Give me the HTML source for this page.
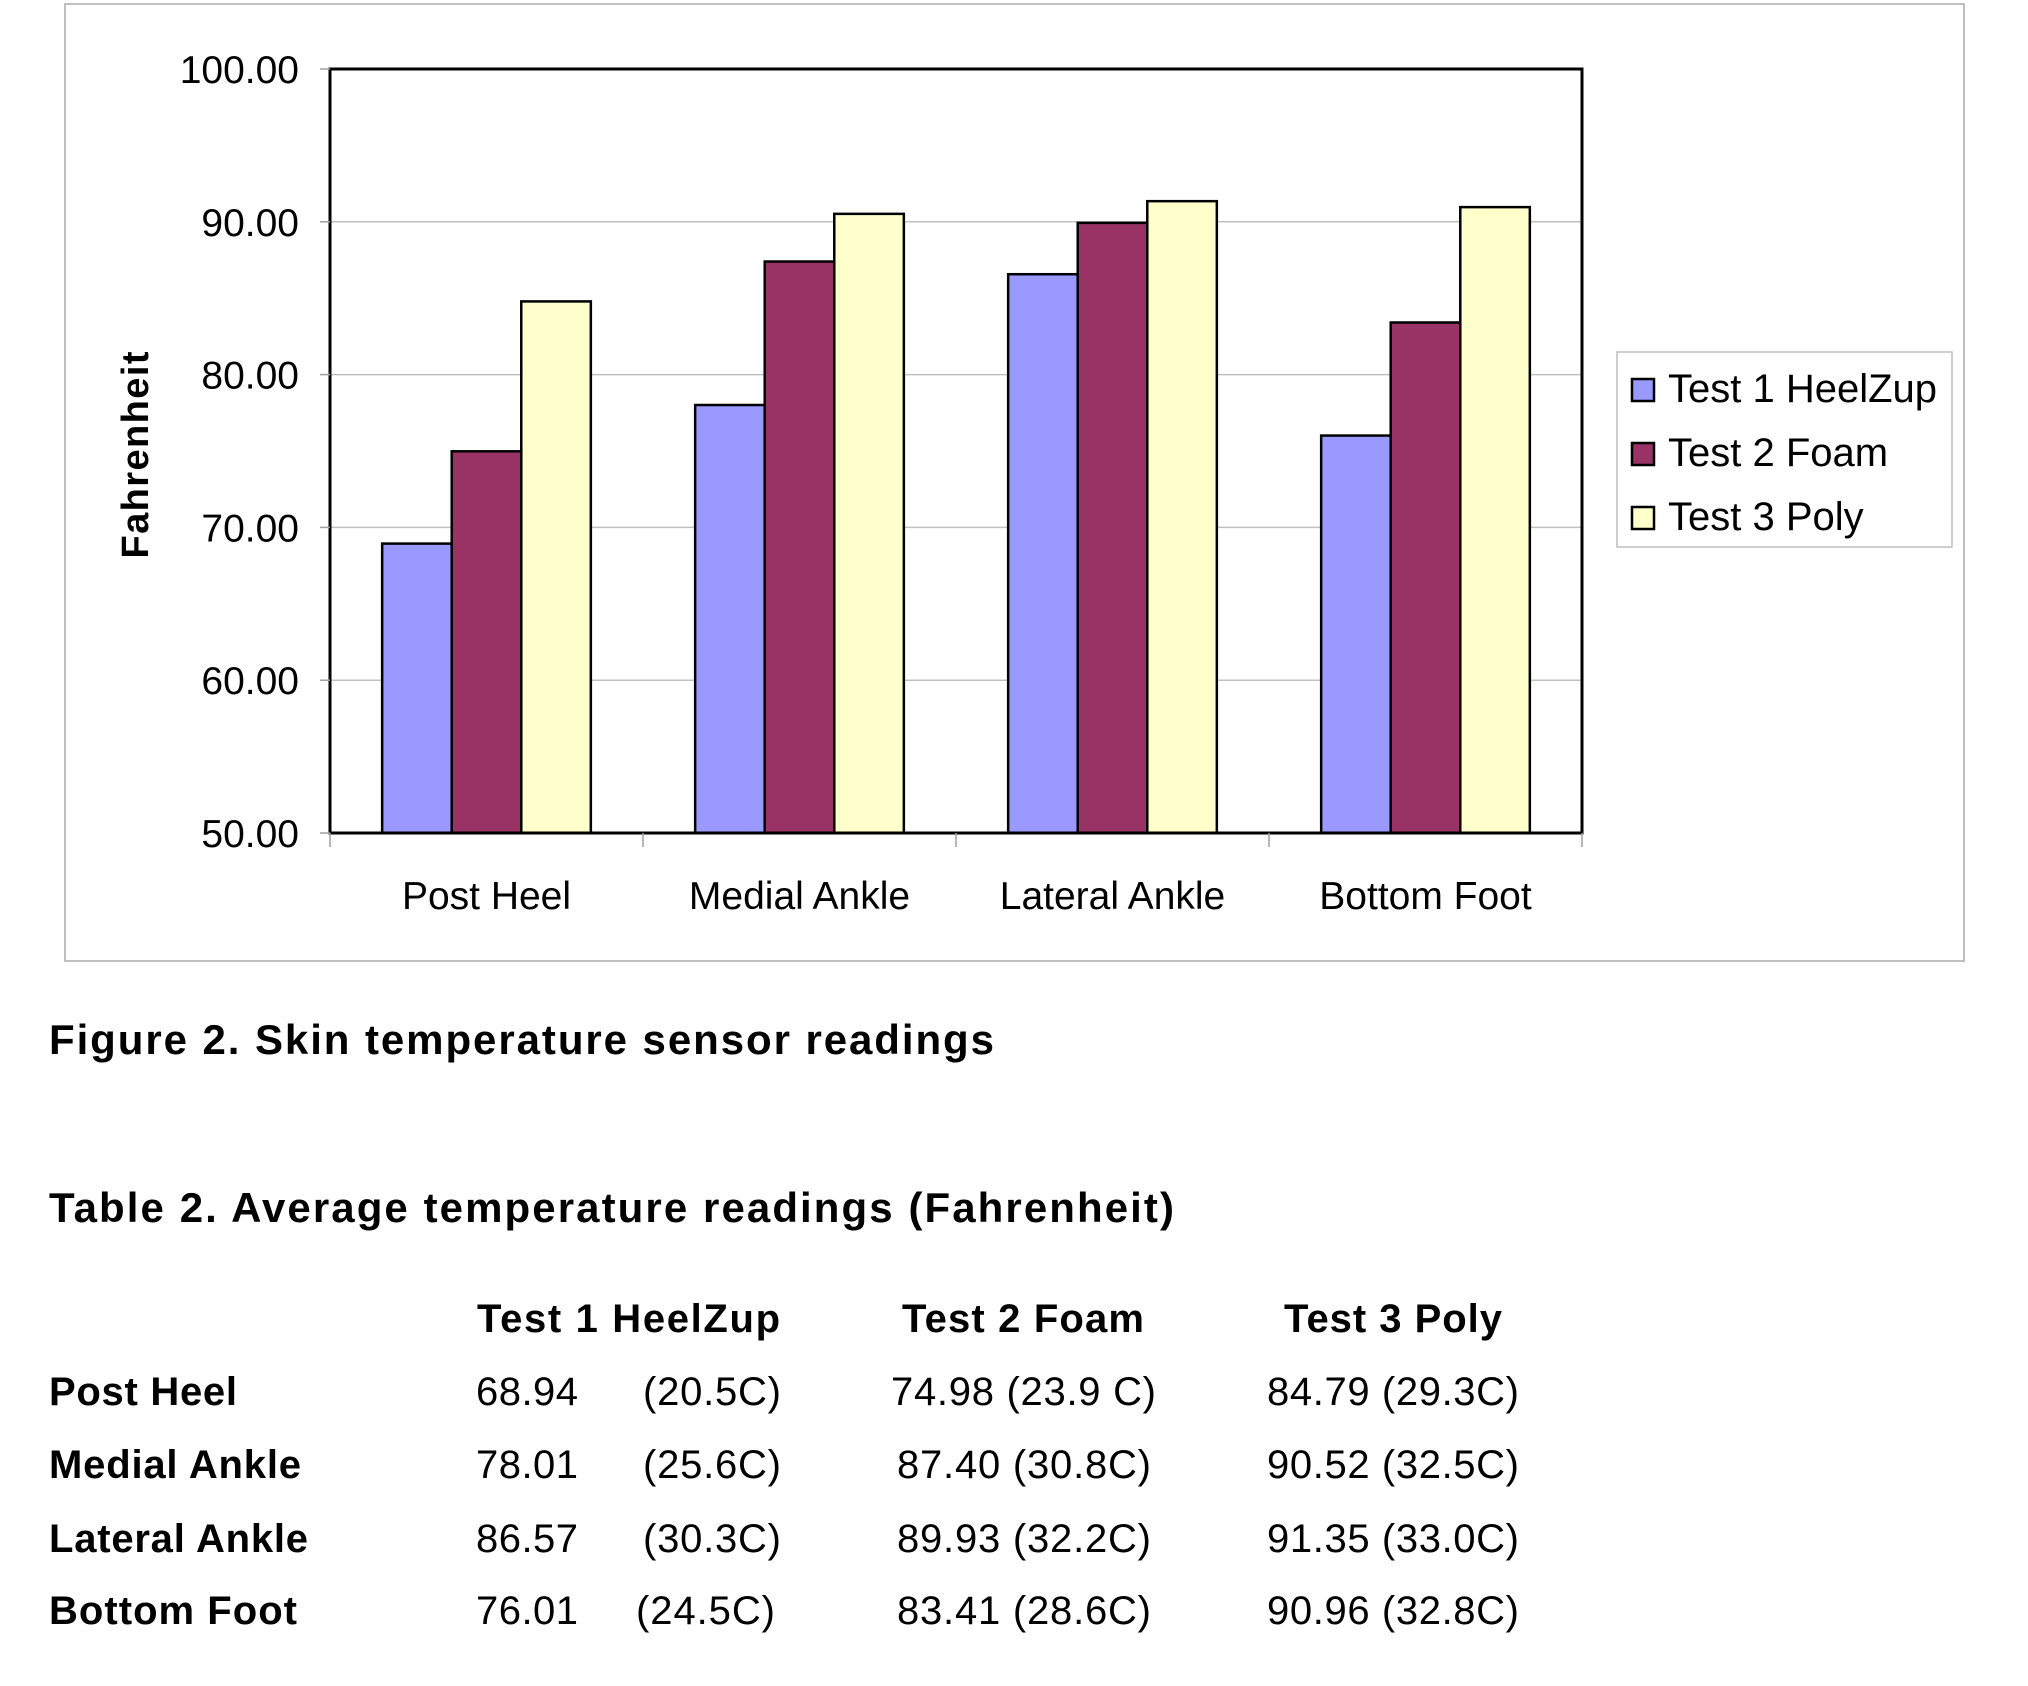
<!DOCTYPE html>
<html><head><meta charset="utf-8"><style>
html,body{margin:0;padding:0;background:#fff;}
svg{display:block;font-family:"Liberation Sans",Arial,sans-serif;}
</style></head><body>
<svg id="chart" width="2028" height="1686" viewBox="0 0 2028 1686">
<rect x="65" y="4" width="1899" height="957" fill="#fff" stroke="#bfbfbf" stroke-width="2"/>
<g id="grid"></g>
<g id="bars"></g>
<rect x="330" y="69" width="1252" height="764" fill="none" stroke="#000" stroke-width="3"/>
<g id="yticks"></g>
<g id="xticks"></g>
<text transform="translate(148,455) rotate(-90)" text-anchor="middle" font-size="38" font-weight="bold" textLength="207">Fahrenheit</text>
<g>
<rect x="1617" y="352" width="335" height="195" fill="#fff" stroke="#bfbfbf" stroke-width="1.5"/>
<g id="legend"></g>
</g>
<text x="49" y="1054" font-size="42" font-weight="bold" textLength="945">Figure 2. Skin temperature sensor readings</text>
<text x="49" y="1222" font-size="42" font-weight="bold" textLength="1125">Table 2. Average temperature readings (Fahrenheit)</text>
<g font-size="40">
<text x="477" y="1332" font-weight="bold" textLength="303">Test 1  HeelZup</text>
<text x="902" y="1332" font-weight="bold" textLength="242">Test 2 Foam</text>
<text x="1284" y="1332" font-weight="bold" textLength="218">Test 3 Poly</text>
<text x="49" y="1405" font-weight="bold" textLength="188">Post Heel</text>
<text x="49" y="1478" font-weight="bold" textLength="252">Medial Ankle</text>
<text x="49" y="1552" font-weight="bold" textLength="259">Lateral Ankle</text>
<text x="49" y="1624" font-weight="bold" textLength="248">Bottom Foot</text>
<text x="476" y="1405" textLength="102">68.94</text>
<text x="643" y="1405" textLength="138">(20.5C)</text>
<text x="891" y="1405" textLength="265">74.98 (23.9 C)</text>
<text x="1267" y="1405" textLength="252">84.79 (29.3C)</text>
<text x="476" y="1478" textLength="102">78.01</text>
<text x="643" y="1478" textLength="138">(25.6C)</text>
<text x="897" y="1478" textLength="254">87.40 (30.8C)</text>
<text x="1267" y="1478" textLength="252">90.52 (32.5C)</text>
<text x="476" y="1552" textLength="102">86.57</text>
<text x="643" y="1552" textLength="138">(30.3C)</text>
<text x="897" y="1552" textLength="254">89.93 (32.2C)</text>
<text x="1267" y="1552" textLength="252">91.35 (33.0C)</text>
<text x="476" y="1624" textLength="102">76.01</text>
<text x="636" y="1624" textLength="139">(24.5C)</text>
<text x="897" y="1624" textLength="254">83.41 (28.6C)</text>
<text x="1267" y="1624" textLength="252">90.96 (32.8C)</text>
</g>
</svg>
<script>
const categories = ["Post Heel","Medial Ankle","Lateral Ankle","Bottom Foot"];
const seriesNames = ["Test 1 HeelZup","Test 2 Foam","Test 3 Poly"];
const test1 = [68.94,78.01,86.57,76.01];
const test2 = [74.98,87.40,89.93,83.41];
const test3 = [84.79,90.52,91.35,90.96];
const yTicks = [50,60,70,80,90,100];
const yTickLabels = ["50.00","60.00","70.00","80.00","90.00","100.00"];

const NS="http://www.w3.org/2000/svg";
const X0=330,X1=1582,Y0=833,Y1=69,YMIN=50,YMAX=100;
const colors=["#9999FF","#993366","#FFFFCC"];
const series=[test1,test2,test3];
function y(v){return Y0-(v-YMIN)/(YMAX-YMIN)*(Y0-Y1);}
const band=(X1-X0)/categories.length;
function xBand(i){return X0+i*band;}
const barW=band/4.5;
function mk(tag,attrs,parent){const e=document.createElementNS(NS,tag);for(const k in attrs)e.setAttribute(k,attrs[k]);parent.appendChild(e);return e;}

const grid=document.getElementById('grid'),yt=document.getElementById('yticks');
yTicks.forEach((t,i)=>{
  const yy=y(t);
  if(t>YMIN&&t<YMAX){const g=mk('line',{x1:X0,x2:X1,y1:yy,y2:yy,stroke:'#c0c0c0','stroke-width':1.5},grid);
  
  }
  const tk=mk('line',{x1:X0-10,x2:X0,y1:yy,y2:yy,stroke:'#a0a0a0','stroke-width':1.5},yt);
  
  
  const tx=mk('text',{x:299,y:yy+14,'text-anchor':'end','font-size':39},yt);
  tx.textContent=yTickLabels[i];
  
  
});
const bars=document.getElementById('bars'),xt=document.getElementById('xticks');
categories.forEach((c,i)=>{
  const bx=xBand(i)+(band-3*barW)/2;
  series.forEach((s,j)=>{
    const r=mk('rect',{x:bx+j*barW,y:y(s[i]),width:barW,height:Y0-y(s[i]),fill:colors[j],stroke:'#000','stroke-width':2.5},bars);
    
    
  });
  const lb=mk('text',{x:xBand(i)+band/2,y:909,'text-anchor':'middle','font-size':39},xt);
  lb.textContent=c;
  
  
});
for(let i=0;i<=categories.length;i++){
  const tk=mk('line',{x1:xBand(i),x2:xBand(i),y1:Y0,y2:Y0+14,stroke:'#a0a0a0','stroke-width':1.5},xt);
  
  
}
const lg=document.getElementById('legend');
seriesNames.forEach((n,j)=>{
  const by=402+j*64;
  const m=mk('rect',{x:1632,y:by-23,width:22,height:22,fill:colors[j],stroke:'#000','stroke-width':2.5},lg);
  
  
  const t=mk('text',{x:1668,y:by,'font-size':40},lg);
  t.textContent=n;
  
  
});
</script>
</body></html>
